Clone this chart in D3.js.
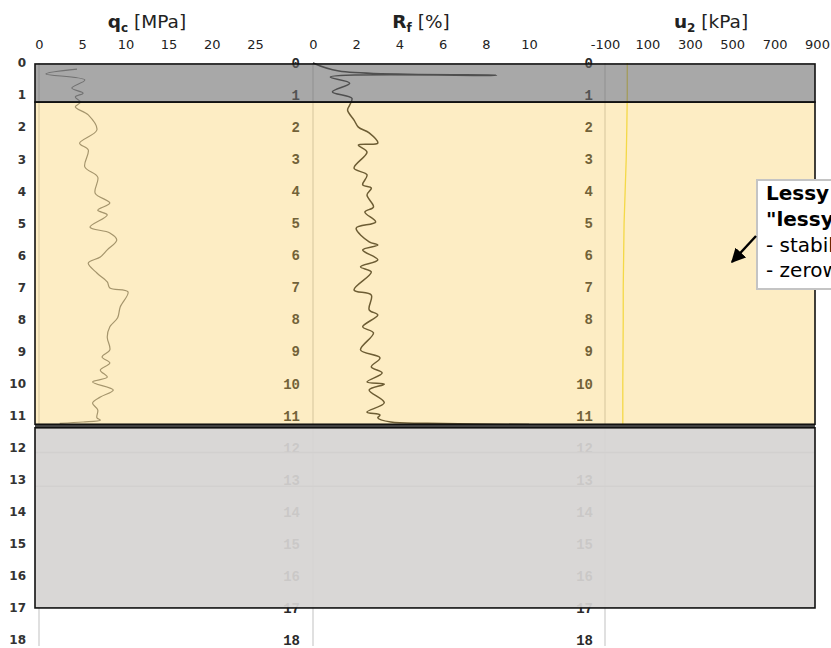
<!DOCTYPE html>
<html>
<head>
<meta charset="utf-8">
<script src="https://cdn.jsdelivr.net/npm/d3@7"></script>
<style>
  html, body { margin: 0; padding: 0; background: #ffffff; }
  svg { display: block; }
</style>
</head>
<body>
<div id="chart"></div>
<script>
// ---- data ----
const qcTicks = [0, 5, 10, 15, 20, 25];
const rfTicks = [0, 2, 4, 6, 8, 10];
const u2Ticks = [-100, 100, 300, 500, 700, 900];
const depthTicks = d3.range(0, 19);

const qcDepth = [0.19,0.34,0.53,0.78,0.94,1.06,1.22,1.37,1.62,2.09,2.50,2.71,3.24,3.56,4.06,4.37,4.59,4.74,5.12,5.30,5.52,5.83,6.05,6.24,6.55,6.83,7.02,7.14,7.61,7.95,8.23,8.55,8.95,9.17,9.36,9.58,9.80,9.95,10.20,10.42,10.61,10.82,11.07,11.14,11.20,11.24];
const qcValue = [4.4,0.8,5.3,3.8,5.1,4.2,4.8,4.2,5.7,6.7,4.7,5.7,5.3,6.8,6.5,8.2,6.8,7.9,5.9,8.2,9.0,7.9,7.1,5.7,6.7,7.9,8.2,10.3,9.4,9.1,8.2,7.9,8.2,7.3,8.2,7.1,7.9,6.2,8.6,7.1,6.2,6.8,6.7,7.1,5.1,2.4];

const rfDepth = [0,0.25,0.38,0.44,0.63,0.90,1.10,1.31,1.47,1.78,2.00,2.18,2.50,2.56,2.78,3.28,3.49,3.80,3.90,4.12,4.49,4.65,4.96,5.15,5.58,5.68,5.83,6.14,6.36,6.52,7.08,7.24,7.70,7.86,8.23,8.42,8.95,9.20,9.48,9.67,9.95,10.02,10.20,10.60,10.89,10.98,11.07,11.20,11.24,11.28];
const rfValue = [0,1.2,8.5,0.8,1.7,0.9,1.8,1.7,1.6,1.9,2.1,2.6,3.0,2.1,2.5,1.9,2.5,2.3,2.7,2.5,2.8,2.4,2.9,2.0,2.6,3.0,2.3,3.0,2.2,2.7,1.9,2.7,2.6,3.0,2.3,2.8,2.2,3.1,2.7,3.2,2.5,3.3,2.6,3.3,2.5,3.1,3.0,3.6,5.3,10.0];

const u2Depth = [0, 1, 2, 3, 4, 5, 6, 7, 8, 9, 10, 11, 11.28];
const u2Value = [5, 5, 3, 0, -5, -10, -12, -14, -14, -15, -16, -16, -16];

// soil layers: [top depth, bottom depth]
const layerNames = ["nasyp", "lessy", "podłoże"];
const layerTop = [0.03, 1.22, 11.38];
const layerBottom = [1.22, 11.27, 17.0];
const hiddenBounds = [12.15, 13.2];

const noteLines = ["Lessy", "\"lessy\"", "- stabilne", "- zerowe"];

// ---- drawing ----
const W = 831, H = 648;
const svg = d3.select("#chart").append("svg").attr("width", W).attr("height", H);
svg.append("rect").attr("width", W).attr("height", H).attr("fill", "#ffffff");

const y = d3.scaleLinear().domain([0, 18]).range([63, 640]);
const xQc = d3.scaleLinear().domain([0, 25]).range([39, 255]);
const xRf = d3.scaleLinear().domain([0, 10]).range([313, 529]);
const xU = d3.scaleLinear().domain([-100, 900]).range([605, 817]);
const boxL = 35, boxR = 815;

// vertical base lines
[xQc(0), xRf(0), xU(-100)].forEach(x => {
  svg.append("line").attr("x1", x).attr("x2", x).attr("y1", y(0)).attr("y2", 646)
    .attr("stroke", "#e0e0e0").attr("stroke-width", 2);
});

// depth axes
function depthAxis(xpos, font, size, weight, color) {
  const g = svg.append("g").attr("transform", `translate(${xpos},0)`)
    .call(d3.axisLeft(y).tickValues(depthTicks).tickSize(0).tickPadding(0).tickFormat(d => String(d)));
  g.select(".domain").remove();
  g.selectAll("text").attr("font-family", font).attr("font-size", size)
    .attr("font-weight", weight).attr("fill", color);
  return g;
}
depthAxis(300, "Liberation Mono", 14, "bold", "#2a2a2a");
depthAxis(593, "Liberation Mono", 14, "bold", "#2a2a2a");

// hidden layer boundaries beneath lower box
hiddenBounds.forEach(d => {
  svg.append("line").attr("x1", boxL).attr("x2", boxR).attr("y1", y(d)).attr("y2", y(d))
    .attr("stroke", "#999").attr("stroke-width", 1.5);
});

// curves
const qcData = qcDepth.map((d, i) => [qcValue[i], d]);
const rfData = rfDepth.map((d, i) => [rfValue[i], d]);
const u2Data = u2Depth.map((d, i) => [u2Value[i], d]);

svg.append("path").datum(u2Data)
  .attr("d", d3.line().x(p => xU(p[0])).y(p => y(p[1])))
  .attr("fill", "none").attr("stroke", "#f2e040").attr("stroke-width", 1.3);
svg.append("path").datum(qcData)
  .attr("d", d3.line().x(p => xQc(p[0])).y(p => y(p[1])).curve(d3.curveCatmullRom.alpha(0.5)))
  .attr("fill", "none").attr("stroke", "#787878").attr("stroke-width", 1.2);
svg.append("path").datum(rfData)
  .attr("d", d3.line().x(p => xRf(p[0])).y(p => y(p[1])).curve(d3.curveCatmullRom.alpha(0.5)))
  .attr("fill", "none").attr("stroke", "#222").attr("stroke-width", 1.5);

// layer overlays
const fills = ["rgba(110,110,110,0.6)", "rgba(249,204,86,0.35)", "rgba(214,212,211,0.93)"];
layerTop.forEach((t, i) => {
  svg.append("rect").attr("x", boxL).attr("width", boxR - boxL)
    .attr("y", y(t)).attr("height", y(layerBottom[i]) - y(t))
    .attr("fill", fills[i]);
});
// separator band between yellow and bottom layer
svg.append("rect").attr("x", boxL).attr("width", boxR - boxL)
  .attr("y", y(layerBottom[1])).attr("height", y(layerTop[2]) - y(layerBottom[1]))
  .attr("fill", "#444");
layerTop.forEach((t, i) => {
  svg.append("rect").attr("x", boxL).attr("width", boxR - boxL)
    .attr("y", y(t)).attr("height", y(layerBottom[i]) - y(t))
    .attr("fill", "none").attr("stroke", "#111").attr("stroke-width", 1.6);
});

// left depth axis (outside boxes)
depthAxis(26, "DejaVu Sans", 12, "bold", "#333");

// top axes
function topAxis(scale, ticks) {
  const g = svg.append("g").attr("transform", "translate(0,49)")
    .call(d3.axisTop(scale).tickValues(ticks).tickSize(0).tickPadding(0).tickFormat(d => String(d)));
  g.select(".domain").remove();
  g.selectAll("text").attr("font-family", "DejaVu Sans").attr("font-size", 13).attr("fill", "#222");
}
topAxis(xQc, qcTicks);
topAxis(xRf, rfTicks);
topAxis(xU, u2Ticks);

// titles
function title(cx, sym, sub, unit) {
  const t = svg.append("text").attr("x", cx).attr("y", 28).attr("text-anchor", "middle")
    .attr("font-family", "DejaVu Sans").attr("font-size", 18.5).attr("fill", "#222");
  t.append("tspan").attr("font-weight", "bold").text(sym);
  t.append("tspan").attr("font-weight", "bold").attr("font-size", 12).attr("dy", 4).text(sub);
  t.append("tspan").attr("dy", -4).text(" " + unit);
}
title((xQc.range()[0] + xQc.range()[1]) / 2, "q", "c", "[MPa]");
title((xRf.range()[0] + xRf.range()[1]) / 2, "R", "f", "[%]");
title((xU.range()[0] + xU.range()[1]) / 2, "u", "2", "[kPa]");

// annotation
svg.append("rect").attr("x", 757).attr("y", 180).attr("width", 110).attr("height", 109)
  .attr("fill", "#ffffff").attr("stroke", "#c4c4c4").attr("stroke-width", 2);
const noteY = [200, 226, 252, 277];
noteLines.forEach((s, i) => {
  svg.append("text").attr("x", 766).attr("y", noteY[i])
    .attr("font-family", "DejaVu Sans").attr("font-size", 20)
    .attr("font-weight", i < 2 ? "bold" : "normal").attr("fill", "#000").text(s);
});
const defs = svg.append("defs");
defs.append("marker").attr("id", "ah").attr("viewBox", "0 0 10 10").attr("refX", 9).attr("refY", 5)
  .attr("markerWidth", 6).attr("markerHeight", 6).attr("orient", "auto")
  .append("path").attr("d", "M0,0 L10,5 L0,10 Z").attr("fill", "#000");
svg.append("line").attr("x1", 756).attr("y1", 236).attr("x2", 732).attr("y2", 262)
  .attr("stroke", "#000").attr("stroke-width", 2.4).attr("marker-end", "url(#ah)");
</script>
</body>
</html>
